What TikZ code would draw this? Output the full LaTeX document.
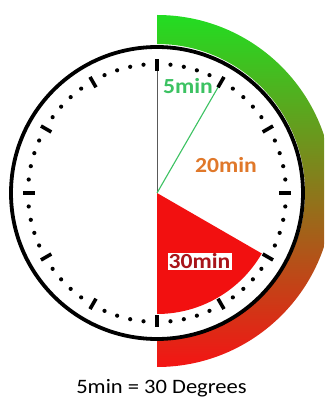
\documentclass[tikz,border=0pt]{standalone}
\usepackage{fontspec}
\newfontfamily\calib{Carlito}[FakeStretch=1.1]
\usepackage{tikz}
\usetikzlibrary{calc}
\definecolor{cGreen}{HTML}{22DD22}
\definecolor{cRed}{HTML}{F41414}
\definecolor{cSector}{HTML}{F21010}
\definecolor{cHand}{HTML}{3CC262}
\definecolor{cTwenty}{HTML}{E0782A}
\definecolor{cThirty}{HTML}{A8141A}

\begin{document}
\begin{tikzpicture}[
  x=1pt,y=1pt,
  rim/.style ={draw=black,line width=3.8pt,fill=white},
  tickmark/.style={draw=black,line width=3.6pt},
  hand/.style={line width=1.1pt},
  lab/.style ={font=\calib\bfseries\fontsize{21.5}{21.5}\selectfont,inner sep=1pt},
  caption/.style={font=\calib\fontsize{20.5}{20.5}\selectfont,text=black,inner sep=1pt},
]
\useasboundingbox (-157,-208) rectangle (167,193);
\begin{scope}
  \clip (-157,-208) rectangle (167,193);
  \shade[top color=cGreen,bottom color=cRed]
    (0,178) arc[start angle=90,end angle=-90,radius=176] -- (0,-147)
    arc[start angle=-90,end angle=90,radius=148] -- cycle;
\end{scope}

\draw[rim] (0,0) circle[radius=146];
\fill[cSector] (0,0) -- (-90:121) arc[start angle=-90,end angle=-30,radius=121] -- cycle;

\coordinate (ctr) at (0,0);
\coordinate (twelve) at (90:122);
\coordinate (one) at (60:124);
\draw[black!65,line width=0.7pt] (ctr) -- (twelve);
\draw[hand,cHand] (ctr) -- (one);

% hour ticks and minute dots
\foreach \a in {0,30,...,330}
  \draw[tickmark] (\a:122) -- (\a:134);
\foreach \h in {0,...,11}
  \foreach \k in {1,...,4}
    \fill ({\h*30+\k*6}:129) circle[radius=2.1];

\node[lab,text=cHand] (five) at (31,107) {5min};
\node[lab,text=cTwenty] (twenty) at (69,28) {20min};
\node[lab,text=cThirty,fill=white,draw=cSector,line width=0.6pt,inner sep=1.5pt] (thirty) at (42.5,-68) {30min};
\node[caption] (cap) at (4.5,-195) {5min = 30 Degrees};
\end{tikzpicture}
\end{document}
